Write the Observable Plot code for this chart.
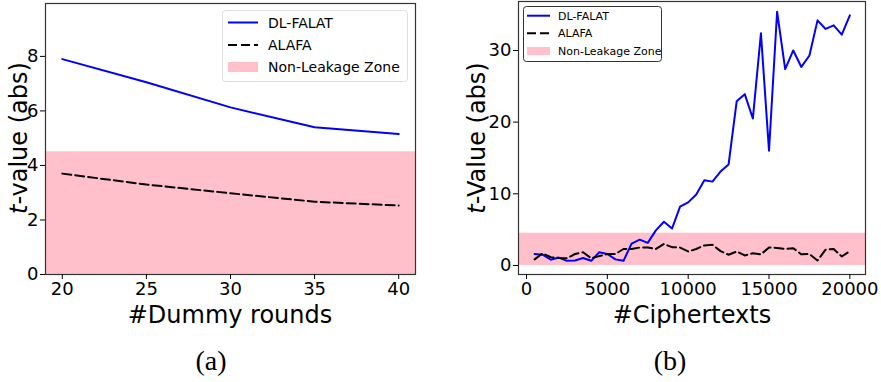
<!DOCTYPE html>
<html>
<head>
<meta charset="utf-8">
<script src="https://cdn.jsdelivr.net/npm/d3@7"></script>
<script src="https://cdn.jsdelivr.net/npm/@observablehq/plot@0.6"></script>
<style>
  html, body { margin: 0; padding: 0; background: white; }
  #wrap { position: relative; width: 881px; height: 382px; overflow: hidden; background: white; }
  .panel { position: absolute; top: 0; }
  #overlay { position: absolute; left: 0; top: 0; }
</style>
</head>
<body>
<div id="wrap">
  <div id="pa" class="panel" style="left:0px"></div>
  <div id="pb" class="panel" style="left:440px"></div>
  <svg id="overlay" width="881" height="382"></svg>
</div>
<script>
// ---------- Data: panel (a) ----------
const rounds = [20, 25, 30, 35, 40];
const dlFalatA = [7.9, 7.05, 6.13, 5.40, 5.15];
const alafaA = [3.70, 3.30, 2.98, 2.67, 2.53];
const roundTicks = [20, 25, 30, 35, 40];
const tTicksA = [0, 2, 4, 6, 8];

// ---------- Data: panel (b) ----------
const ciphertexts = [500, 1000, 1500, 2000, 2500, 3000, 3500, 4000, 4500, 5000,
  5500, 6000, 6500, 7000, 7500, 8000, 8500, 9000, 9500, 10000,
  10500, 11000, 11500, 12000, 12500, 13000, 13500, 14000, 14500, 15000,
  15500, 16000, 16500, 17000, 17500, 18000, 18500, 19000, 19500, 20000];
const dlFalatB = [1.6, 1.5, 0.8, 1.1, 0.65, 0.7, 1.05, 0.65, 1.85, 1.6,
  0.85, 0.65, 3.05, 3.6, 3.15, 4.9, 6.1, 5.15, 8.2, 8.8,
  9.9, 11.9, 11.7, 13.1, 14.1, 22.9, 23.9, 20.5, 32.4, 16.0,
  35.4, 27.4, 30.0, 27.7, 29.3, 34.2, 33.0, 33.5, 32.2, 34.9];
const alafaB = [0.85, 1.7, 1.15, 1.05, 1.0, 1.6, 1.85, 1.0, 1.3, 1.6,
  1.6, 2.3, 2.3, 2.5, 2.5, 2.3, 3.0, 2.55, 2.5, 1.95,
  2.3, 2.8, 2.9, 2.0, 1.5, 1.95, 1.4, 1.7, 1.55, 2.5,
  2.45, 2.3, 2.4, 1.55, 1.6, 0.7, 2.2, 2.3, 1.25, 2.0];
const cipherTicks = [0, 5000, 10000, 15000, 20000];
const tTicksB = [0, 10, 20, 30];

// Non-leakage zone threshold
const zone = [{lo: 0, hi: 4.5}];

const seriesNames = ["DL-FALAT", "ALAFA", "Non-Leakage Zone"];

const dash = "9,4";
const baseStyle = {fontFamily: "DejaVu Sans", fontSize: "18px", color: "black", background: "transparent", overflow: "visible"};

const dataA = rounds.map((r, i) => ({x: r, dl: dlFalatA[i], al: alafaA[i]}));
const dataB = ciphertexts.map((c, i) => ({x: c, dl: dlFalatB[i], al: alafaB[i]}));

const plotA = Plot.plot({
  width: 440, height: 320,
  marginLeft: 45, marginRight: 25, marginTop: 3, marginBottom: 46,
  x: {domain: [19, 41], label: null},
  y: {domain: [0, 9.94], label: null},
  style: baseStyle,
  marks: [
    Plot.rect(zone, {y1: "lo", y2: "hi", fill: "pink"}),
    Plot.line(dataA, {x: "x", y: "dl", stroke: "blue", strokeWidth: 2}),
    Plot.line(dataA, {x: "x", y: "al", stroke: "black", strokeWidth: 2, strokeDasharray: dash}),
    Plot.frame({stroke: "#333", strokeWidth: 1.2}),
    Plot.axisX({ticks: roundTicks, tickSize: 5, tickPadding: 3, fontSize: 18, label: null}),
    Plot.axisY({ticks: tTicksA, tickSize: 5, tickPadding: 2, fontSize: 18, label: null})
  ]
});
document.getElementById("pa").appendChild(plotA);

const plotB = Plot.plot({
  width: 441, height: 320,
  marginLeft: 78, marginRight: 16, marginTop: 1, marginBottom: 46,
  x: {domain: [-495, 20968], label: null},
  y: {domain: [-1.26, 36.83], label: null},
  style: baseStyle,
  marks: [
    Plot.rect(zone, {y1: "lo", y2: "hi", fill: "pink"}),
    Plot.line(dataB, {x: "x", y: "dl", stroke: "blue", strokeWidth: 2}),
    Plot.line(dataB, {x: "x", y: "al", stroke: "black", strokeWidth: 2, strokeDasharray: dash}),
    Plot.frame({stroke: "#333", strokeWidth: 1.2}),
    Plot.axisX({ticks: cipherTicks, tickFormat: d3.format("d"), tickSize: 5, tickPadding: 3, fontSize: 18, label: null}),
    Plot.axisY({ticks: tTicksB, tickSize: 5, tickPadding: 2, fontSize: 18, label: null})
  ]
});
document.getElementById("pb").appendChild(plotB);

// ---------- Overlay: axis labels, legends, captions ----------
const svg = d3.select("#overlay");

function yLabel(cx, cy, rest) {
  const t = svg.append("text")
    .attr("transform", `translate(${cx},${cy}) rotate(-90)`)
    .attr("text-anchor", "middle")
    .attr("dy", "0.36em")
    .attr("font-family", "DejaVu Sans")
    .attr("font-size", 24)
    .attr("fill", "black");
  t.append("tspan").attr("font-style", "italic").text("t");
  t.append("tspan").text(rest);
}
yLabel(18, 138, "-value (abs)");
yLabel(476, 138, "-Value (abs)");

function xLabel(cx, baseline, s) {
  svg.append("text").attr("x", cx).attr("y", baseline)
    .attr("text-anchor", "middle")
    .attr("font-family", "DejaVu Sans").attr("font-size", 24)
    .attr("fill", "black").text(s);
}
xLabel(230, 323, "#Dummy rounds");
xLabel(692, 323, "#Ciphertexts");

function caption(cx, baseline, s) {
  svg.append("text").attr("x", cx).attr("y", baseline)
    .attr("text-anchor", "middle")
    .attr("font-family", "Liberation Serif").attr("font-size", 28)
    .attr("fill", "black").text(s);
}
caption(211, 370, "(a)");
caption(670, 370, "(b)");

function legend(o) {
  const g = svg.append("g");
  g.append("rect").attr("x", o.x).attr("y", o.y).attr("width", o.w).attr("height", o.h)
    .attr("rx", 3).attr("fill", "white").attr("fill-opacity", 0.85)
    .attr("stroke", o.border).attr("stroke-width", 1);
  o.rows.forEach((cy, i) => {
    if (i === 0) {
      g.append("line").attr("x1", o.sx1).attr("x2", o.sx2).attr("y1", cy).attr("y2", cy)
        .attr("stroke", "blue").attr("stroke-width", 2);
    } else if (i === 1) {
      g.append("line").attr("x1", o.sx1).attr("x2", o.sx2).attr("y1", cy).attr("y2", cy)
        .attr("stroke", "black").attr("stroke-width", 2).attr("stroke-dasharray", dash);
    } else {
      g.append("rect").attr("x", o.sx1).attr("y", cy - o.ph / 2).attr("width", o.sx2 - o.sx1).attr("height", o.ph)
        .attr("fill", "pink");
    }
    g.append("text").attr("x", o.tx).attr("y", cy).attr("dy", "0.36em")
      .attr("font-family", "DejaVu Sans").attr("font-size", o.fs).attr("fill", "black")
      .text(seriesNames[i]);
  });
}
legend({x: 222.5, y: 10.5, w: 185, h: 71, border: "#dddddd", rows: [22.5, 45, 67],
  sx1: 228, sx2: 258, tx: 268, fs: 14, ph: 10});
legend({x: 523.5, y: 6.5, w: 138, h: 55, border: "#333333", rows: [15.7, 33.3, 51],
  sx1: 527, sx2: 550, tx: 558, fs: 11, ph: 8});
</script>
</body>
</html>
